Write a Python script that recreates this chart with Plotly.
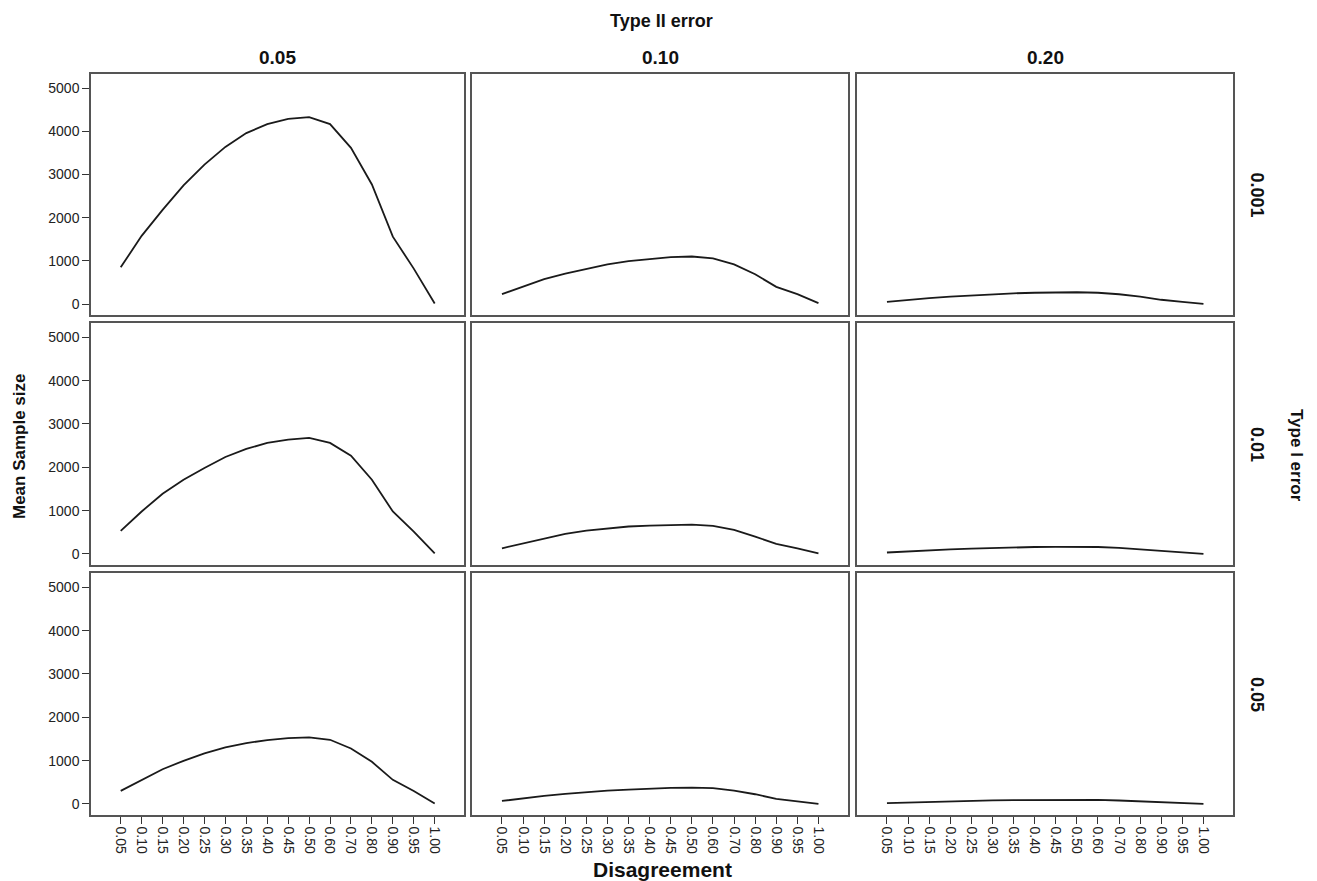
import plotly.graph_objects as go

disagreement = ["0.05", "0.10", "0.15", "0.20", "0.25", "0.30", "0.35", "0.40",
                "0.45", "0.50", "0.60", "0.70", "0.80", "0.90", "0.95", "1.00"]
type_ii_labels = ["0.05", "0.10", "0.20"]
type_i_labels = ["0.001", "0.01", "0.05"]
y_ticks = [0, 1000, 2000, 3000, 4000, 5000]

# Mean sample size per (Type I error, Type II error)
n_a0001_b005 = [850, 1580, 2180, 2750, 3230, 3640, 3960, 4170, 4290, 4330, 4170, 3620, 2770, 1560, 820, 10]
n_a0001_b010 = [229, 398, 574, 704, 818, 918, 994, 1048, 1086, 1101, 1055, 918, 688, 398, 229, 20]
n_a0001_b020 = [50, 99, 136, 172, 202, 228, 248, 261, 268, 272, 261, 226, 173, 98, 51, 2]

n_a001_b005 = [532, 980, 1390, 1713, 1983, 2238, 2423, 2562, 2639, 2677, 2562, 2268, 1713, 980, 517, 15]
n_a001_b010 = [131, 247, 363, 463, 540, 594, 633, 656, 671, 675, 648, 556, 401, 231, 131, 15]
n_a001_b020 = [33, 61, 87, 107, 124, 140, 151, 160, 165, 167, 160, 142, 107, 61, 32, 1]

n_a005_b005 = [301, 548, 802, 995, 1165, 1304, 1404, 1474, 1520, 1535, 1481, 1281, 972, 556, 301, 8]
n_a005_b010 = [69, 131, 185, 231, 278, 309, 332, 355, 370, 378, 363, 309, 224, 116, 54, 0]
n_a005_b020 = [19, 34, 50, 62, 73, 82, 88, 92, 95, 96, 93, 80, 61, 35, 19, 0]

grid = [
    [n_a0001_b005, n_a0001_b010, n_a0001_b020],
    [n_a001_b005, n_a001_b010, n_a001_b020],
    [n_a005_b005, n_a005_b010, n_a005_b020],
]

W, H = 1317, 881
col_px = [(91, 464), (472, 848), (857, 1233)]
row_px = [(74, 315), (323, 565), (573, 815)]
FONT = "Liberation Sans, Arial, sans-serif"

fig = go.Figure()
layout = dict(
    width=W, height=H, margin=dict(l=0, r=0, t=0, b=0),
    paper_bgcolor="white", plot_bgcolor="white", showlegend=False,
    font=dict(family=FONT, color="#222222"),
)

line_col = "#555555"
for r in range(3):
    for c in range(3):
        idx = r * 3 + c + 1
        sfx = "" if idx == 1 else str(idx)
        fig.add_trace(go.Scatter(
            x=disagreement, y=grid[r][c], mode="lines",
            line=dict(color="#1a1a1a", width=1.8),
            xaxis="x" + sfx, yaxis="y" + sfx, hoverinfo="x+y",
        ))
        x0, x1 = col_px[c]
        y0, y1 = row_px[r]
        layout["xaxis" + sfx] = dict(
            domain=[x0 / W, x1 / W], anchor="y" + sfx,
            type="category", categoryorder="array", categoryarray=disagreement,
            range=[-1.42, 16.4], showgrid=False, zeroline=False,
            showline=True, mirror=True, linecolor=line_col, linewidth=1.5,
            ticks="outside" if r == 2 else "", ticklen=7, tickwidth=1.2,
            tickcolor="#333333", showticklabels=(r == 2), tickangle=90,
            tickfont=dict(size=14, color="#222222"),
        )
        layout["yaxis" + sfx] = dict(
            domain=[1 - y1 / H, 1 - y0 / H], anchor="x" + sfx,
            range=[-255, 5330], showgrid=False, zeroline=False,
            tickvals=y_ticks,
            showline=True, mirror=True, linecolor=line_col, linewidth=1.5,
            ticks="outside" if c == 0 else "", ticklen=7, tickwidth=1.2,
            tickcolor="#333333", showticklabels=(c == 0),
            tickfont=dict(size=14, color="#222222"),
        )

fig.update_layout(**layout)

ann = []
def bold(size):
    return dict(family=FONT, size=size, color="#111111")

ann.append(dict(text="<b>Type II error</b>", x=661 / W, y=1 - 21 / H, xref="paper", yref="paper",
                showarrow=False, font=bold(18), xanchor="center", yanchor="middle"))
for c, lab in enumerate(type_ii_labels):
    x0, x1 = col_px[c]
    ann.append(dict(text="<b>%s</b>" % lab, x=(x0 + x1) / 2 / W, y=1 - 57 / H, xref="paper", yref="paper",
                    showarrow=False, font=bold(19), xanchor="center", yanchor="middle"))
for r, lab in enumerate(type_i_labels):
    y0, y1 = row_px[r]
    ann.append(dict(text="<b>%s</b>" % lab, x=1257 / W, y=1 - (y0 + y1) / 2 / H, xref="paper", yref="paper",
                    showarrow=False, font=bold(18), textangle=90, xanchor="center", yanchor="middle"))
ann.append(dict(text="<b>Type I error</b>", x=1296 / W, y=1 - 455 / H, xref="paper", yref="paper",
                showarrow=False, font=bold(17), textangle=90, xanchor="center", yanchor="middle"))
ann.append(dict(text="<b>Mean Sample size</b>", x=19 / W, y=1 - 446 / H, xref="paper", yref="paper",
                showarrow=False, font=bold(17), textangle=-90, xanchor="center", yanchor="middle"))
ann.append(dict(text="<b>Disagreement</b>", x=662 / W, y=1 - 869 / H, xref="paper", yref="paper",
                showarrow=False, font=bold(21), xanchor="center", yanchor="middle"))
fig.update_layout(annotations=ann)

fig.write_html("out.html", config={"displayModeBar": False},
               post_script="document.body.style.margin='0';document.body.style.overflow='hidden';")
